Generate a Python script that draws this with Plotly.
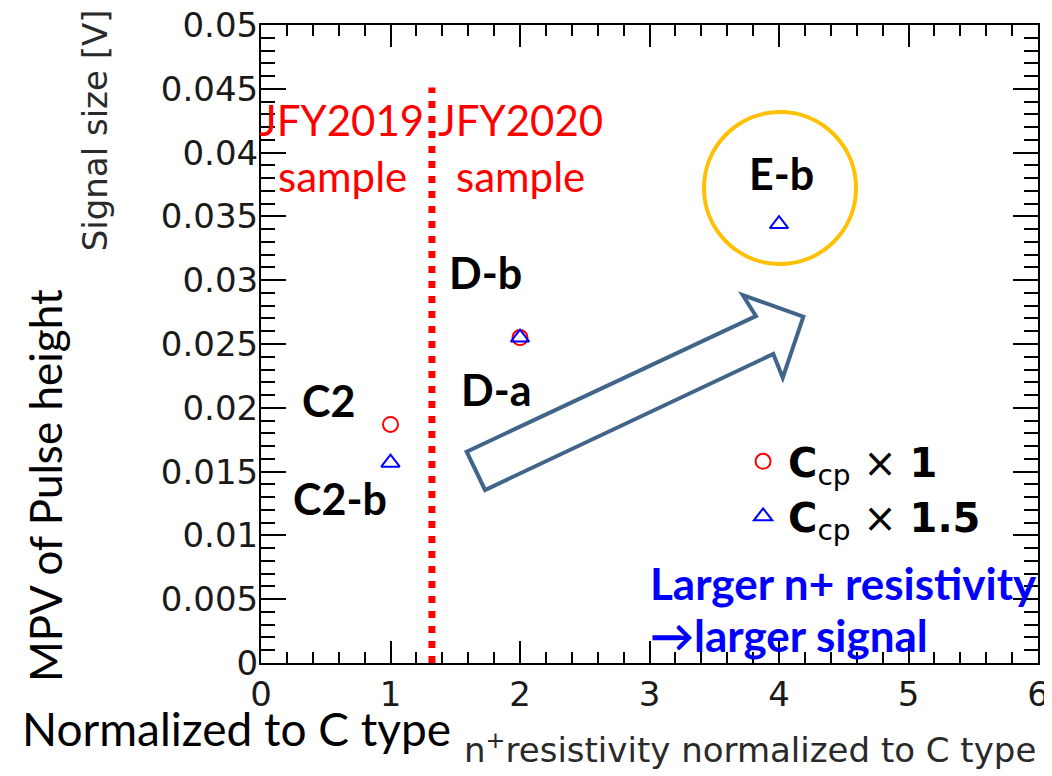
import plotly.graph_objects as go

# ---- data ----
x_ccp1 = [1, 2]
y_ccp1 = [0.0187, 0.0255]
x_ccp15 = [1, 2, 4]
y_ccp15 = [0.0157, 0.0255, 0.0344]

x_ticks = [0, 1, 2, 3, 4, 5, 6]
y_ticks = [0, 0.005, 0.01, 0.015, 0.02, 0.025, 0.03, 0.035, 0.04, 0.045, 0.05]
y_tick_text = ["0", "0.005", "0.01", "0.015", "0.02", "0.025", "0.03", "0.035", "0.04", "0.045", "0.05"]

sample_labels = ["C2", "C2-b", "D-b", "D-a", "E-b"]
sample_label_x = [0.52, 0.61, 1.73, 1.82, 4.02]
sample_label_y = [0.0206, 0.0129, 0.0306, 0.0214, 0.0384]

divider_x = 1.32
divider_top = 0.0451

CAL = "Lato"
ARI = "DejaVu Sans"

fig = go.Figure()
fig.add_trace(go.Scatter(
    x=x_ccp1, y=y_ccp1, mode="markers",
    name="<b>C</b><sub>cp</sub> × <b>1</b>",
    marker=dict(symbol="circle-open", size=15, color="#ff0000", line=dict(width=2, color="#ff0000")),
))
fig.add_trace(go.Scatter(
    x=x_ccp15, y=y_ccp15, mode="markers",
    name="<b>C</b><sub>cp</sub> × <b>1.5</b>",
    marker=dict(symbol="triangle-up-open", size=16, color="#0000ff", line=dict(width=2, color="#0000ff")),
))

axis_common = dict(
    showline=True, linecolor="black", linewidth=2, mirror="allticks",
    ticks="inside", tickcolor="black", tickwidth=2,
    showgrid=False, zeroline=False, automargin=False,
    ticklabeloverflow="allow",
    tickfont=dict(family=ARI, size=34, color="#1a1a1a"),
)
fig.update_xaxes(range=[0, 6], tickvals=x_ticks, ticklen=22,
                 minor=dict(dtick=0.2, ticklen=11, ticks="inside", tickcolor="black", tickwidth=2, showgrid=False),
                 **axis_common)
fig.update_yaxes(range=[0, 0.05], tickvals=y_ticks, ticktext=y_tick_text, ticklen=25,
                 ticklabelstandoff=-6,
                 minor=dict(dtick=0.001, ticklen=14, ticks="inside", tickcolor="black", tickwidth=2, showgrid=False),
                 **axis_common)

# red dotted divider
fig.add_shape(type="line", xref="x", yref="y", x0=divider_x, x1=divider_x, y0=0, y1=divider_top,
              line=dict(color="#ff0000", width=7, dash="7px,8px"))

# orange circle around E-b
fig.add_shape(type="circle", xref="x", yref="y", x0=3.421, x1=4.595, y0=0.03127, y1=0.04318,
              line=dict(color="#ffc000", width=4))

# outline block arrow
arrow_pts = [(1.588, 0.01656), (3.822, 0.02719), (3.720, 0.02884), (4.188, 0.02714),
             (4.029, 0.02236), (3.956, 0.02422), (1.730, 0.01356)]
path = "M " + " L ".join(f"{px},{py}" for px, py in arrow_pts) + " Z"
fig.add_shape(type="path", xref="x", yref="y", path=path, line=dict(color="#41648a", width=4))

ann = []
for t, xx, yy in zip(sample_labels, sample_label_x, sample_label_y):
    ann.append(dict(x=xx, y=yy, xref="x", yref="y", text=f"<b>{t}</b>", showarrow=False,
                    font=dict(family=CAL, size=43, color="black")))
for txt, xx, yy in [("JFY2019", 0.62, 0.04255), ("sample", 0.63, 0.0382),
                    ("JFY2020", 2.0, 0.04255), ("sample", 2.0, 0.0382)]:
    ann.append(dict(x=xx, y=yy, xref="x", yref="y", text=txt, showarrow=False,
                    font=dict(family=CAL, size=42, color="#ff0000")))
ann.append(dict(x=2.99, y=0.00627, xref="x", yref="y", xanchor="left", text="<b>Larger n+ resistivity</b>",
                showarrow=False, font=dict(family=CAL, size=44, color="#0000ff")))
ann.append(dict(x=2.99, y=0.0022, xref="x", yref="y", xanchor="left", text="<b>→larger signal</b>",
                showarrow=False, font=dict(family=CAL, size=44, color="#0000ff")))
# axis titles (ROOT style)
ann.append(dict(x=-0.2136, y=0.835, xref="paper", yref="paper", xanchor="center", yanchor="middle",
                text="Signal size [V]", textangle=-90,
                showarrow=False, font=dict(family=ARI, size=34, color="#2a2a2a")))
ann.append(dict(x=1.0, y=-0.133, xref="paper", yref="paper", xanchor="right", yanchor="middle",
                text="n<sup>+</sup>resistivity normalized to C type",
                showarrow=False, font=dict(family=ARI, size=34, color="#2a2a2a")))
# overlay labels
ann.append(dict(x=-0.278, y=0.279, xref="paper", yref="paper", xanchor="center", yanchor="middle",
                text="MPV of Pulse height", textangle=-90,
                showarrow=False, font=dict(family=CAL, size=44, color="black")))
ann.append(dict(x=-0.310, y=-0.102, xref="paper", yref="paper", xanchor="left", yanchor="middle",
                text="Normalized to C type",
                showarrow=False, font=dict(family=CAL, size=46, color="black")))

# page body has an 8px margin, so the figure is drawn 8px smaller and offset
fig.update_layout(
    width=1044, height=768,
    margin=dict(l=253, r=14, t=17, b=113),
    paper_bgcolor="white", plot_bgcolor="white",
    annotations=ann,
    showlegend=True,
    legend=dict(x=0.614, y=0.367, xanchor="left", yanchor="top", bgcolor="rgba(0,0,0,0)",
                font=dict(family=ARI, size=40, color="black"), itemwidth=40),
)

fig.write_html("out.html")
